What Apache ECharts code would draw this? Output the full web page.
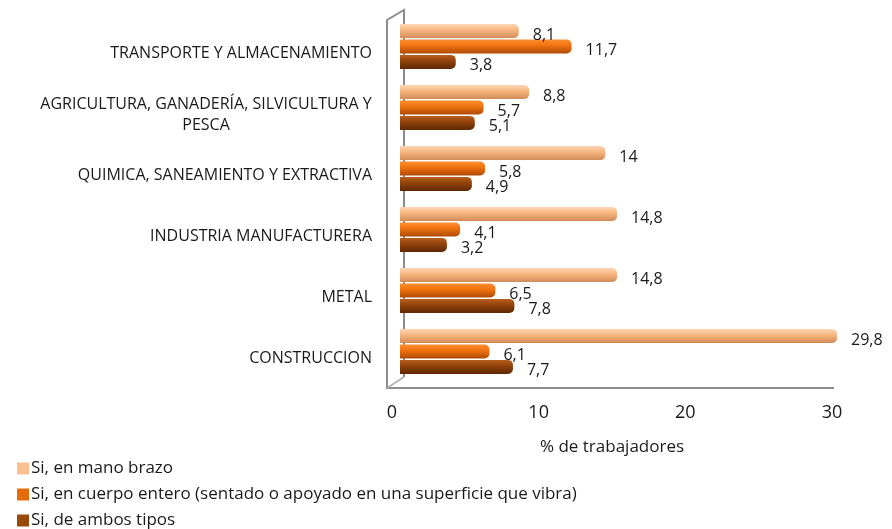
<!DOCTYPE html>
<html><head><meta charset="utf-8">
<script src="https://cdn.jsdelivr.net/npm/echarts@6/dist/echarts.min.js"></script>
<style>html,body{margin:0;padding:0;background:#fff}#c{width:892px;height:529px}</style>
</head><body><div id="c"></div>
<script>
const categories = ["CONSTRUCCION","METAL","INDUSTRIA MANUFACTURERA","QUIMICA, SANEAMIENTO Y EXTRACTIVA","AGRICULTURA, GANADERÍA, SILVICULTURA Y\nPESCA","TRANSPORTE Y ALMACENAMIENTO"];
const seriesNames = ["Si, en mano brazo","Si, en cuerpo entero (sentado o apoyado en una superficie que vibra)","Si, de ambos tipos"];
const manoBrazo = [29.8, 14.8, 14.8, 14, 8.8, 8.1];
const cuerpoEntero = [6.1, 6.5, 4.1, 5.8, 5.7, 11.7];
const ambosTipos = [7.7, 7.8, 3.2, 4.9, 5.1, 3.8];
const xTicks = [0, 10, 20, 30];

const colors = [["#FCD6B4","#F8B781","#D08C58"],["#FF8E30","#F27411","#B04A04"],["#B8601F","#95440B","#5E2804"]];
const legendColors = ["#FAC090","#E46C0A","#984807"];
const FONT = "Open Sans";
const TXT = "#1a1a1a";
const CAT_FS = 16;
function grad(c){return {type:'linear',x:0,y:0,x2:0,y2:1,colorStops:[{offset:0,color:c[0]},{offset:0.4,color:c[1]},{offset:1,color:c[2]}]};}
const mctx = document.createElement('canvas').getContext('2d');
mctx.font = CAT_FS + 'px "' + FONT + '"';
function maxLineWidth(s){return Math.ceil(Math.max.apply(null, s.split('\n').map(l=>mctx.measureText(l).width)));}
const dataSets=[manoBrazo,cuerpoEntero,ambosTipos];
const G = {left:400, right:52, top:16, height:366};
const chart = echarts.init(document.getElementById('c'));
const series = dataSets.map((d,i)=>({
  name: seriesNames[i], type:'bar', data:d, barWidth:14, barGap:'10%',
  itemStyle:{color:grad(colors[i]), borderRadius:[0,5,5,0]},
  label:{show:true, position:'right', distance:14, offset:[0,4], color:TXT, fontFamily:FONT, fontSize:16,
    formatter:p=>String(p.value).replace('.',',')}
}));
const multi = categories.filter(c=>c.indexOf('\n')>=0)[0];
const multiW = maxLineWidth(multi);
chart.setOption({
  animation:false,
  textStyle:{fontFamily:FONT},
  grid:G,
  legend:{orient:'vertical', left:12, top:455, height:90, itemWidth:12, itemHeight:12, itemGap:9, itemStyle:{borderWidth:0},
    icon:'rect', textStyle:{fontFamily:FONT,fontSize:17,color:TXT,padding:[0,0,0,-3]},
    data:seriesNames.map((n,i)=>({name:n,itemStyle:{color:legendColors[i]}}))},
  xAxis:{type:'value', min:0, max:30, interval:10,
    name:'% de trabajadores', nameLocation:'middle', nameGap:57,
    nameTextStyle:{fontFamily:FONT,fontSize:17,color:TXT,padding:[0,16,0,0]},
    axisLine:{show:false}, axisTick:{show:false}, splitLine:{show:false},
    axisLabel:{fontFamily:FONT,fontSize:18,color:TXT,margin:22,padding:[0,16,0,0],
      formatter:v=> xTicks.indexOf(v)>=0 ? String(v) : ''}},
  yAxis:{type:'category', data:categories,
    axisLine:{show:false}, axisTick:{show:false},
    axisLabel:{fontFamily:FONT,fontSize:CAT_FS,color:TXT,margin:28, padding:[14,0,0,0], lineHeight:21,
      formatter:v=> v.indexOf('\n')>=0 ? '{c|'+v+'}' : v,
      rich:{c:{width:multiW,align:'center',fontFamily:FONT,fontSize:CAT_FS,color:TXT,lineHeight:21}}}},
  series: series
});
// 3D frame decoration (walls/floor edges), placed relative to the grid
const gx = G.left, gt = G.top, gb = G.top + G.height, gr = 892 - G.right;
const frame = {stroke:'#8c8c8c', lineWidth:2, fill:null};
chart.setOption({graphic:[
  {type:'polyline', shape:{points:[[gx+4,gb-5],[gx+4,gt-6],[gx-13,gt+4],[gx-13,gb+6],[gr-6,gb+6]]}, style:frame, silent:true, z:-1},
  {type:'line', shape:{x1:gx-13,y1:gb+6,x2:gx+4,y2:gb-5}, style:{stroke:'#b0b0b0',lineWidth:1.5}, silent:true, z:-1}
]});
</script></body></html>
